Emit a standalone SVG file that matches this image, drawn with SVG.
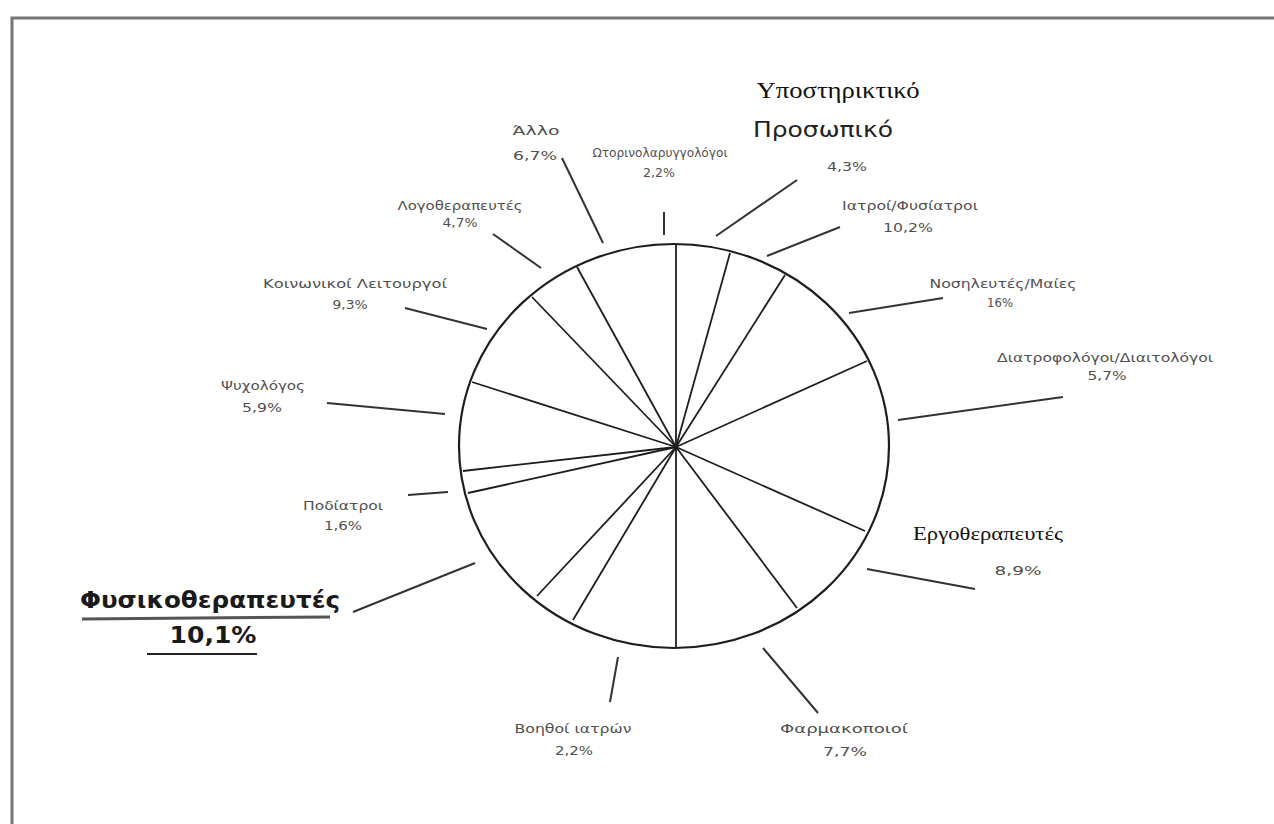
<svg xmlns="http://www.w3.org/2000/svg" width="1274" height="824" viewBox="0 0 1274 824">
<style>
.lbl{font-family:"DejaVu Sans","Liberation Sans",sans-serif;font-size:13px;fill:#505050;text-anchor:middle}
.ser{font-family:"Liberation Serif","DejaVu Serif",serif;fill:#111;text-anchor:middle}
.big{font-family:"DejaVu Sans","Liberation Sans",sans-serif;font-weight:bold;font-size:23px;fill:#1a1a1a;text-anchor:middle}
.rad{stroke:#1e1e1e;stroke-width:1.8;fill:none}
.lead{stroke:#333;stroke-width:2;fill:none}
</style>
<rect width="1274" height="824" fill="#fff"/>
<path d="M12 824 V18 H1274" fill="none" stroke="#777" stroke-width="3"/>
<g id="pie">
<ellipse cx="674" cy="446" rx="215" ry="202" fill="#fff" stroke="#1e1e1e" stroke-width="2.2"/>
<g class="rad">
<line x1="676" y1="447" x2="676" y2="244"/>
<line x1="676" y1="447" x2="730" y2="253"/>
<line x1="676" y1="447" x2="785" y2="275"/>
<line x1="676" y1="447" x2="867" y2="361"/>
<line x1="676" y1="447" x2="865" y2="531"/>
<line x1="676" y1="447" x2="797" y2="608"/>
<line x1="676" y1="447" x2="676" y2="648"/>
<line x1="676" y1="447" x2="573" y2="620"/>
<line x1="676" y1="447" x2="537" y2="596"/>
<line x1="676" y1="447" x2="468" y2="493"/>
<line x1="676" y1="447" x2="463" y2="471"/>
<line x1="676" y1="447" x2="472" y2="382"/>
<line x1="676" y1="447" x2="532" y2="297"/>
<line x1="676" y1="447" x2="577" y2="267"/>
</g>
</g>
<g id="connectors" class="lead">
<line x1="562" y1="158" x2="603" y2="243"/>
<line x1="664" y1="212" x2="664" y2="235"/>
<line x1="493" y1="234" x2="541" y2="268"/>
<line x1="797" y1="180" x2="716" y2="236"/>
<line x1="840" y1="227" x2="767" y2="256"/>
<line x1="943" y1="298" x2="849" y2="313"/>
<line x1="1063" y1="397" x2="898" y2="420"/>
<line x1="867" y1="569" x2="975" y2="589"/>
<line x1="763" y1="648" x2="818" y2="713"/>
<line x1="618" y1="657" x2="610" y2="702"/>
<line x1="475" y1="563" x2="353" y2="612"/>
<line x1="408" y1="495" x2="448" y2="492"/>
<line x1="327" y1="403" x2="445" y2="414"/>
<line x1="405" y1="308" x2="487" y2="329"/>
</g>
<g id="n-allo"><text class="lbl" x="536" y="135" font-size="18" textLength="47" lengthAdjust="spacingAndGlyphs">Άλλο</text><text class="lbl" x="535" y="160" font-size="17" textLength="44" lengthAdjust="spacingAndGlyphs">6,7%</text></g>
<g id="n-orl"><text class="lbl" x="660" y="157" font-size="10" textLength="135" lengthAdjust="spacingAndGlyphs">Ωτορινολαρυγγολόγοι</text><text class="lbl" x="659" y="177" font-size="10" textLength="32" lengthAdjust="spacingAndGlyphs">2,2%</text></g>
<g id="n-logo"><text class="lbl" x="460" y="210" textLength="125" lengthAdjust="spacingAndGlyphs">Λογοθεραπευτές</text><text class="lbl" x="460" y="227" textLength="35" lengthAdjust="spacingAndGlyphs">4,7%</text></g>
<g id="n-koin"><text class="lbl" x="355" y="288" font-size="14" textLength="184" lengthAdjust="spacingAndGlyphs">Κοινωνικοί Λειτουργοί</text><text class="lbl" x="350" y="309" font-size="14" textLength="35" lengthAdjust="spacingAndGlyphs">9,3%</text></g>
<g id="n-psy"><text class="lbl" x="263" y="390" textLength="84" lengthAdjust="spacingAndGlyphs">Ψυχολόγος</text><text class="lbl" x="262" y="412" textLength="40" lengthAdjust="spacingAndGlyphs">5,9%</text></g>
<g id="n-pod"><text class="lbl" x="343" y="510" textLength="80" lengthAdjust="spacingAndGlyphs">Ποδίατροι</text><text class="lbl" x="343" y="530" textLength="38" lengthAdjust="spacingAndGlyphs">1,6%</text></g>
<g id="n-fysio">
<text class="big" x="210" y="608" textLength="260" lengthAdjust="spacingAndGlyphs">Φυσικοθεραπευτές</text>
<line x1="82" y1="619" x2="330" y2="617" stroke="#555" stroke-width="3"/>
<text class="big" x="213" y="643" textLength="87" lengthAdjust="spacingAndGlyphs">10,1%</text>
<line x1="147" y1="654" x2="257" y2="654" stroke="#222" stroke-width="2"/>
</g>
<g id="n-voith"><text class="lbl" x="573" y="733" font-size="14" textLength="117" lengthAdjust="spacingAndGlyphs">Βοηθοί ιατρών</text><text class="lbl" x="574" y="755" font-size="14" textLength="38" lengthAdjust="spacingAndGlyphs">2,2%</text></g>
<g id="n-farm"><text class="lbl" x="844" y="733" font-size="16" textLength="128" lengthAdjust="spacingAndGlyphs">Φαρμακοποιοί</text><text class="lbl" x="845" y="756" font-size="16" textLength="44" lengthAdjust="spacingAndGlyphs">7,7%</text></g>
<g id="n-ergo"><text class="ser" x="988" y="540" font-size="18" textLength="150" lengthAdjust="spacingAndGlyphs">Εργοθεραπευτές</text><text class="lbl" x="1018" y="575" font-size="16" textLength="47" lengthAdjust="spacingAndGlyphs">8,9%</text></g>
<g id="n-diat"><text class="lbl" x="1105" y="362" textLength="216" lengthAdjust="spacingAndGlyphs">Διατροφολόγοι/Διαιτολόγοι</text><text class="lbl" x="1107" y="380" textLength="39" lengthAdjust="spacingAndGlyphs">5,7%</text></g>
<g id="n-nos"><text class="lbl" x="1003" y="288" textLength="147" lengthAdjust="spacingAndGlyphs">Νοσηλευτές/Μαίες</text><text class="lbl" x="1000" y="307" textLength="26" lengthAdjust="spacingAndGlyphs">16%</text></g>
<g id="n-iatr"><text class="lbl" x="910" y="210" textLength="136" lengthAdjust="spacingAndGlyphs">Ιατροί/Φυσίατροι</text><text class="lbl" x="908" y="232" font-size="15" textLength="50" lengthAdjust="spacingAndGlyphs">10,2%</text></g>
<g id="n-ypost">
<text class="ser" x="838" y="98" font-size="23" textLength="163" lengthAdjust="spacingAndGlyphs">Υποστηρικτικό</text>
<text x="823" y="137" font-family="DejaVu Sans, Liberation Sans, sans-serif" font-size="21" fill="#222" text-anchor="middle" textLength="140" lengthAdjust="spacingAndGlyphs">Προσωπικό</text>
<text class="lbl" x="847" y="171" textLength="40" lengthAdjust="spacingAndGlyphs">4,3%</text>
</g>
</svg>
